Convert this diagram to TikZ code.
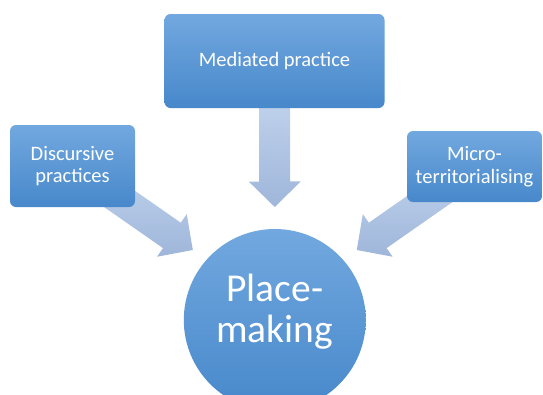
\documentclass[tikz,border=0pt]{standalone}
\usepackage{fontspec}
\setmainfont{Carlito}
\usetikzlibrary{calc,backgrounds}

\definecolor{boxtop}{HTML}{72A8DF}
\definecolor{boxbot}{HTML}{4788CB}
\definecolor{arrowlight}{HTML}{BDD0EB}
\definecolor{arrowdark}{HTML}{9FB6DA}

\tikzset{
  stagebox/.style={rounded corners=6pt, top color=boxtop, bottom color=boxbot,
    draw=none, text=white, align=center, inner sep=0pt,
    font=\fontsize{20.5}{22.5}\selectfont},
  hub/.style={circle, top color=boxtop, bottom color=boxbot, draw=none,
    inner sep=0pt, minimum size=182pt},
  hubtext/.style={text=white, align=center, inner sep=0pt,
    font=\fontsize{39.5}{41}\selectfont},
  arrowbody/.style={top color=arrowlight, bottom color=arrowdark, draw=none},
}

% Block arrow from #1 (tail) to #2 (tip)
\newcommand\blockarrow[2]{%
  \coordinate (ba-h) at ($(#2)!25.5pt!(#1)$);
  \path[arrowbody]
    ($(#1)!15.5pt!90:(#2)$) -- ($(ba-h)!15.5pt!-90:(#1)$)
    -- ($(ba-h)!26pt!-90:(#1)$) -- (#2)
    -- ($(ba-h)!26pt!90:(#1)$) -- ($(ba-h)!15.5pt!90:(#1)$)
    -- ($(#1)!15.5pt!-90:(#2)$) -- cycle;
}

\begin{document}
\begin{tikzpicture}[x=1pt,y=-1pt]
\useasboundingbox (0,0) rectangle (543,394);

\node[stagebox, minimum width=125pt, minimum height=82pt] (disc) at (72.5,166) {Discursive\\practices};
\node[stagebox, minimum width=220pt, minimum height=94pt] (med) at (274.5,61) {Mediated practice};
\node[stagebox, minimum width=135pt, minimum height=71pt] (micro) at (474.5,166.5) {Micro-\\territorialising};
\node[hub] (place) at (274.8,320) {};
\node[hubtext] (placetext) at ($(place.center)+(0,-8)$) {Place-\\making};

\begin{scope}[on background layer]
  \coordinate (dtail) at ($(disc.center)+(30,21)$);
  \coordinate (dtip) at ($(place.center)+(-82,-70)$);
  \coordinate (mtip) at ($(place.center)+(0,-113)$);
  \coordinate (rtail) at ($(micro.center)+(-27.5,20.5)$);
  \coordinate (rtip) at ($(place.center)+(82,-70)$);
  \blockarrow{med.south}{mtip}
  \blockarrow{dtail}{dtip}
  \blockarrow{rtail}{rtip}
\end{scope}
\end{tikzpicture}
\end{document}
